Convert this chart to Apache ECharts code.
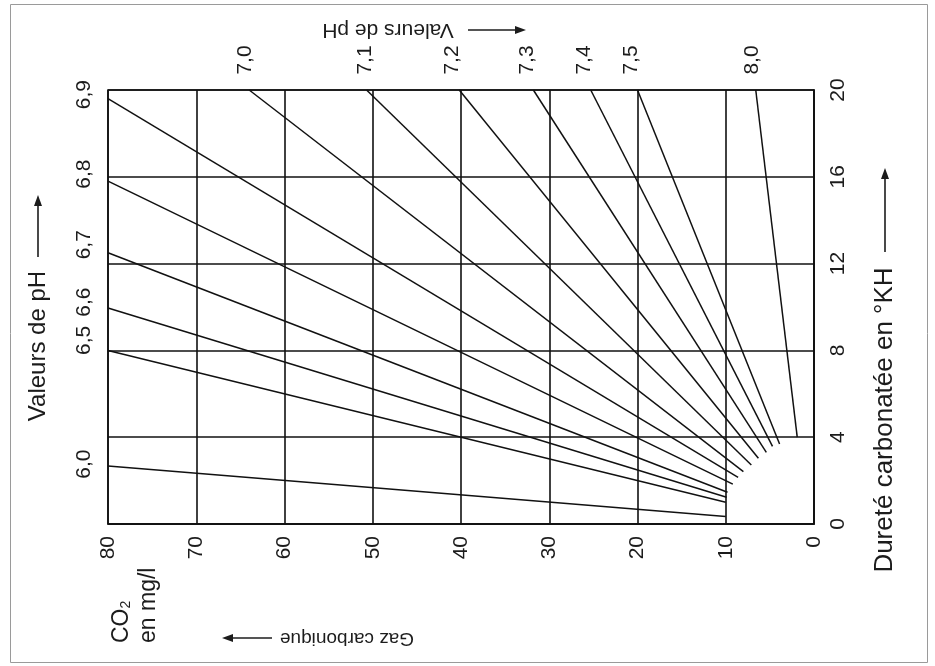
<!DOCTYPE html>
<html>
<head>
<meta charset="utf-8">
<script src="https://cdn.jsdelivr.net/npm/echarts@6/dist/echarts.min.js"></script>
<style>
html,body{margin:0;padding:0;background:#fff;}
#chart{width:935px;height:666px;}
</style>
</head>
<body>
<div id="chart"></div>
<script>
// ---- data ----
const phLabels = ['6,0','6,5','6,6','6,7','6,8','6,9','7,0','7,1','7,2','7,3','7,4','7,5','8,0'];
// far end of each pH line (CO2 mg/l, KH)
const farCO2 = [80, 80, 80, 80, 80, 80, 64.0, 50.7, 40.2, 31.8, 25.3, 20.0, 6.6];
const farKH  = [2.67, 8.0, 9.95, 12.5, 15.8, 19.6, 20, 20, 20, 20, 20, 20, 20];
// near end of each pH line (where it stops near the origin)
const nearCO2 = [10, 10, 9.9, 9.8, 9.2, 8.6, 8.0, 7.1, 6.3, 5.4, 4.7, 3.9, 1.9];
const nearKH  = [0.34, 1.0, 1.23, 1.46, 1.84, 2.15, 2.41, 2.72, 3.03, 3.3, 3.58, 3.69, 4.0];
// axis ticks
const co2Ticks = [0, 10, 20, 30, 40, 50, 60, 70, 80];
const khTicks  = [0, 4, 8, 12, 16, 20];

// ---- styling ----
const FONT = 'Liberation Sans';
const TXT = '#1c1c1c';
const FS = 21;
// screen nudges of the pH labels from line ends [dx, dy]
const labelNudge = [
  [-24, -2], [-24, -10], [-24, -6], [-24, -8], [-24, -7], [-24, -4],
  [-4, -30], [-1, -30], [-7, -30], [-6, -30], [-7, -30], [-6, -30], [-4, -30]
];

const chart = echarts.init(document.getElementById('chart'), null, {renderer: 'canvas'});

const series = phLabels.map((ph, i) => {
  const [dx, dy] = labelNudge[i];
  return {
    type: 'line',
    name: 'pH ' + ph,
    silent: true,
    symbol: 'circle',
    symbolSize: 0,
    showSymbol: true,
    lineStyle: {color: '#111', width: 1.5},
    itemStyle: {color: '#111'},
    emphasis: {disabled: true},
    animation: false,
    data: [
      {
        value: [farCO2[i], farKH[i]],
        label: {
          show: true,
          formatter: ph,
          position: 'inside',
          rotate: 90,
          align: 'center',
          verticalAlign: 'middle',
          offset: [-dy, dx],
          color: TXT,
          fontSize: FS,
          fontFamily: FONT
        }
      },
      {value: [nearCO2[i], nearKH[i]], label: {show: false}}
    ]
  };
});

function arrow(x1, y1, x2, y2) {
  const ang = Math.atan2(y2 - y1, x2 - x1);
  const L = 11, W = 4;
  const bx = x2 - L * Math.cos(ang), by = y2 - L * Math.sin(ang);
  const px = -Math.sin(ang) * W, py = Math.cos(ang) * W;
  return [
    {type: 'line', shape: {x1: x1, y1: y1, x2: bx, y2: by}, style: {stroke: TXT, lineWidth: 1.6}},
    {type: 'polygon', shape: {points: [[x2, y2], [bx + px, by + py], [bx - px, by - py]]}, style: {fill: TXT}}
  ];
}

const textStyle = (t, fs, extra) => Object.assign({text: t, fill: TXT, fontSize: fs, fontFamily: FONT}, extra || {});

const graphics = [
  {type: 'rect', shape: {x: 10.5, y: 4.5, width: 917, height: 658}, style: {fill: 'none', stroke: '#9a9a9a', lineWidth: 1}, silent: true},
  // left title
  {type: 'text', x: 38, y: 346, rotation: Math.PI / 2, style: textStyle('Valeurs de pH', 24, {align: 'center', verticalAlign: 'middle'})},
  // top title (upside down)
  {type: 'text', x: 388, y: 30, rotation: Math.PI, style: textStyle('Valeurs de pH', 21, {align: 'center', verticalAlign: 'middle'})},
  // bottom title (upside down)
  {type: 'text', x: 347, y: 638, rotation: Math.PI, style: textStyle('Gaz carbonique', 19, {align: 'center', verticalAlign: 'middle'})},
  // right title
  {type: 'text', x: 885, y: 420, rotation: Math.PI / 2, style: textStyle('Dureté carbonatée en °KH', 26, {align: 'center', verticalAlign: 'middle'})},
  // CO2 en mg/l
  {type: 'text', x: 122, y: 643, rotation: Math.PI / 2, style: {
      text: 'CO{s|2}', fill: TXT, fontSize: 23, fontFamily: FONT, align: 'left', verticalAlign: 'middle',
      rich: {s: {fontSize: 14, fontFamily: FONT, fill: TXT, verticalAlign: 'bottom', padding: [9, 0, 0, 0]}}
  }},
  {type: 'text', x: 149, y: 643, rotation: Math.PI / 2, style: textStyle('en mg/l', 23, {align: 'left', verticalAlign: 'middle'})}
]
.concat(arrow(38, 257, 38, 195))
.concat(arrow(468, 30, 526, 30))
.concat(arrow(272, 638, 222, 638))
.concat(arrow(885, 252, 885, 168));

const option = {
  animation: false,
  backgroundColor: '#ffffff',
  grid: {left: 108, right: 121, top: 90, bottom: 142, show: true, borderColor: '#111', borderWidth: 1.6, backgroundColor: 'transparent'},
  xAxis: {
    type: 'value', inverse: true, min: co2Ticks[0], max: co2Ticks[co2Ticks.length - 1], interval: 10,
    position: 'bottom',
    axisLine: {show: true, lineStyle: {color: '#111', width: 1.6}},
    axisTick: {show: false},
    splitLine: {show: true, lineStyle: {color: '#111', width: 1.6}},
    axisLabel: {rotate: 90, margin: 12, color: TXT, fontSize: FS, fontFamily: FONT,
      formatter: v => co2Ticks.indexOf(v) >= 0 ? String(v) : ''}
  },
  yAxis: {
    type: 'value', min: khTicks[0], max: khTicks[khTicks.length - 1], interval: 4,
    position: 'right',
    axisLine: {show: true, lineStyle: {color: '#111', width: 1.6}},
    axisTick: {show: false},
    splitLine: {show: true, lineStyle: {color: '#111', width: 1.6}},
    axisLabel: {rotate: 90, margin: 14, color: TXT, fontSize: FS, fontFamily: FONT,
      formatter: v => khTicks.indexOf(v) >= 0 ? String(v) : ''}
  },
  graphic: graphics,
  series: series
};

chart.setOption(option);
</script>
</body>
</html>
